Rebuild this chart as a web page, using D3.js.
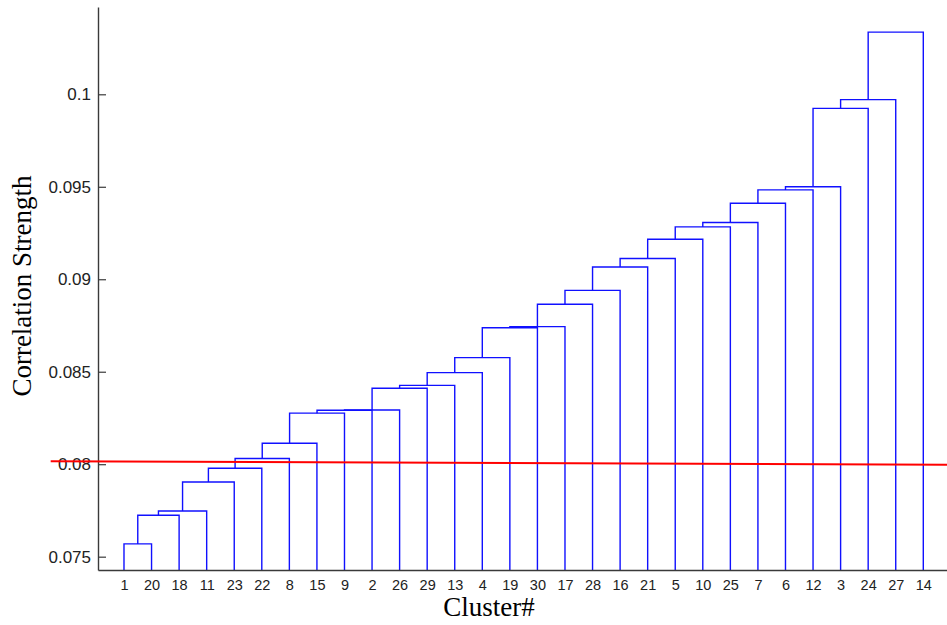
<!DOCTYPE html>
<html>
<head>
<meta charset="utf-8">
<script src="https://cdn.jsdelivr.net/npm/d3@7"></script>
<style>
  html, body { margin: 0; padding: 0; background: #ffffff; }
  svg { display: block; }
</style>
</head>
<body>
<svg id="chart" width="947" height="625"></svg>
<script>
// ---- data ----
// leaf order along the x axis (cluster numbers)
const leafLabels = [1, 20, 18, 11, 23, 22, 8, 15, 9, 2, 26, 29, 13, 4, 19, 30, 17, 28, 16, 21, 5, 10, 25, 7, 6, 12, 3, 24, 27, 14];
// merge k joins the cluster of leaves 1..k with leaf k+1 (correlation strength)
const mergeHeights = [
  0.07569, 0.07724, 0.07747, 0.07904, 0.07978, 0.08031, 0.08113, 0.08276,
  0.08292, 0.08293, 0.08411, 0.08426, 0.08495, 0.08576, 0.08738, 0.08744,
  0.08865, 0.08940, 0.09066, 0.09112, 0.09216, 0.09283, 0.09307, 0.09411,
  0.09483, 0.09500, 0.09924, 0.09971, 0.10336
];
// y tick values and labels
const yTicks = [0.075, 0.08, 0.085, 0.09, 0.095, 0.1];
const yTickLabels = ["0.075", "0.08", "0.085", "0.09", "0.095", "0.1"];
// cut-off line: [leaf position, value] at both ends
const cutStart = [-1.66, 0.08016];
const cutEnd = [30.86, 0.07997];
// axis extents
const xDomain = [0.057, 30.86];
const yDomain = [0.07428, 0.10472];

// ---- layout ----
const svg = d3.select("#chart");
const plotLeft = 98, plotRight = 947, plotTop = 7, plotBottom = 570;

const x = d3.scaleLinear().domain(xDomain).range([plotLeft, plotRight]);
const y = d3.scaleLinear().domain(yDomain).range([plotBottom, plotTop]);

// ---- dendrogram links ----
const blue = "#1010ff";
const links = [];
let cx = 1;            // position of current cluster node (leaf index units)
let ch = yDomain[0];   // height of current cluster node
mergeHeights.forEach((h, i) => {
  const leafPos = i + 2;
  links.push([[cx, ch], [cx, h], [leafPos, h], [leafPos, yDomain[0]]]);
  cx = (cx + leafPos) / 2;
  ch = h;
});

const line = d3.line().x(d => x(d[0])).y(d => y(d[1]));

svg.append("g")
  .selectAll("path")
  .data(links)
  .join("path")
  .attr("d", line)
  .attr("fill", "none")
  .attr("stroke", blue)
  .attr("stroke-width", 1.4)
  .attr("stroke-linejoin", "miter");

// ---- axes ----
const axisColor = "#3a3a3a";

const yAxis = d3.axisLeft(y)
  .tickValues(yTicks)
  .tickFormat((d, i) => yTickLabels[i])
  .tickSizeInner(-8)
  .tickSizeOuter(0)
  .tickPadding(7);

const gy = svg.append("g")
  .attr("transform", `translate(${plotLeft},0)`)
  .call(yAxis);
gy.select(".domain").attr("stroke", axisColor).attr("stroke-width", 1.4);
gy.selectAll(".tick line").attr("stroke", axisColor).attr("stroke-width", 1.2);
gy.selectAll(".tick text")
  .attr("fill", "#222")
  .style("font-family", "'Liberation Sans', Arial, sans-serif")
  .style("font-size", "17px");

const xAxis = d3.axisBottom(x)
  .tickValues(d3.range(1, leafLabels.length + 1))
  .tickFormat((d, i) => String(leafLabels[i]))
  .tickSizeInner(0)
  .tickSizeOuter(0)
  .tickPadding(10);

const gx = svg.append("g")
  .attr("transform", `translate(0,${plotBottom})`)
  .call(xAxis);
gx.select(".domain").attr("stroke", axisColor).attr("stroke-width", 1.4);
gx.selectAll(".tick text")
  .attr("fill", "#222")
  .style("font-family", "'Liberation Sans', Arial, sans-serif")
  .style("font-size", "14.5px");

// ---- cut-off line ----
svg.append("line")
  .attr("x1", x(cutStart[0])).attr("y1", y(cutStart[1]))
  .attr("x2", x(cutEnd[0])).attr("y2", y(cutEnd[1]))
  .attr("stroke", "#ff0000")
  .attr("stroke-width", 2);

// ---- axis titles ----
svg.append("text")
  .attr("x", 489).attr("y", 616)
  .attr("text-anchor", "middle")
  .style("font-family", "'Liberation Serif', 'Times New Roman', serif")
  .style("font-size", "27px")
  .attr("fill", "#000")
  .text("Cluster#");

svg.append("text")
  .attr("transform", "translate(31,286) rotate(-90)")
  .attr("text-anchor", "middle")
  .style("font-family", "'Liberation Serif', 'Times New Roman', serif")
  .style("font-size", "27px")
  .attr("fill", "#000")
  .text("Correlation Strength");
</script>
</body>
</html>
